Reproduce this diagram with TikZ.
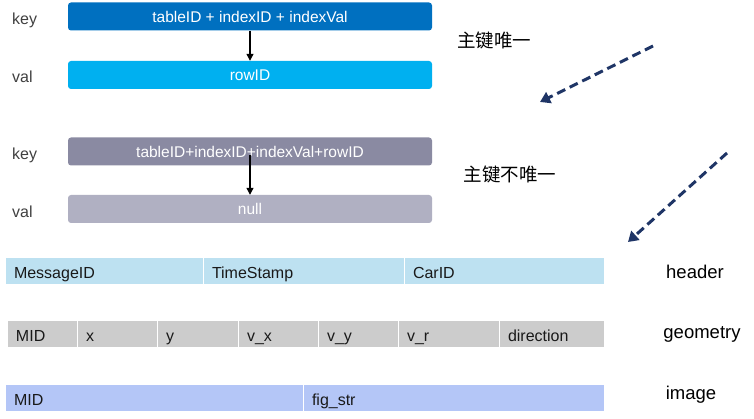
\documentclass[tikz,border=0pt]{standalone}
\usepackage{fontspec}
\setmainfont{Liberation Sans}
\newfontfamily\cjk{Noto Sans CJK SC}
\usepackage{tikz}
\usetikzlibrary{%
    arrows.meta,
    positioning,
    calc
}

\definecolor{keyblue}{HTML}{0070C0}
\definecolor{valblue}{HTML}{00B0F0}
\definecolor{keygray}{HTML}{8A8AA2}
\definecolor{valgray}{HTML}{B0B0C2}
\definecolor{hdblue}{HTML}{BDE1F1}
\definecolor{geogray}{HTML}{CCCCCC}
\definecolor{imgblue}{HTML}{B4C6F7}
\definecolor{navy}{HTML}{1F3566}

\begin{document}
\begin{tikzpicture}[x=1pt, y=-1pt,
    kvbox/.style={rectangle, rounded corners=3pt, minimum width=364pt,
      minimum height=28pt, inner sep=0pt, text=white,
      font=\fontsize{15.5}{18}\selectfont},
    side/.style={anchor=west, inner sep=0pt, text=black!75,
      font=\fontsize{16}{19}\selectfont},
    cell/.style={draw=white, line width=1pt, minimum height=27pt,
      outer sep=0pt, inner xsep=9pt, inner ysep=0pt, text width=#1,
      text height=15pt, text depth=0pt, align=left,
      text=black!90, font=\fontsize{16}{19}\selectfont},
    tag/.style={font=\fontsize{18.5}{22}\selectfont},
    link/.style={-{Triangle[width=7pt,length=7pt]}, line width=1.2pt},
    hint/.style={-{Triangle[width=12pt,length=10pt]}, line width=3pt,
      dash pattern=on 9pt off 5pt, color=navy}]
  \useasboundingbox (0,0) rectangle (754,419);

  % key / val, primary key unique
  \node[kvbox, fill=keyblue] (k1) at (250,16.5) {tableID + indexID + indexVal};
  \node[kvbox, fill=valblue] (v1) at (250,75) {rowID};
  \node[side] (lk1) at (12,20) {key};
  \node[side] (lv1) at (12,77) {val};
  \draw[link] (k1.south) -- (v1.north);

  % key / val, primary key not unique
  \node[kvbox, fill=keygray] (k2) at (250,151.5) {tableID+indexID+indexVal+rowID};
  \node[kvbox, fill=valgray] (v2) at (250,209) {null};
  \node[side] (lk2) at (12,155) {key};
  \node[side] (lv2) at (12,212) {val};
  \draw[link] ($(k2.center)+(0,4)$) -- (v2.north);

  \node[tag] (u1) at (494,40) {\cjk 主键唯一};
  \node[tag] (u2) at (510,174) {\cjk 主键不唯一};

  \coordinate (h1s) at (653,46);
  \coordinate (h1e) at (540,102);
  \coordinate (h2s) at (727,153);
  \coordinate (h2e) at (628,242);
  \draw[hint] (h1s) -- (h1e);
  \draw[hint] (h2s) -- (h2e);

  % header
  \node[cell=180pt, fill=hdblue, anchor=west] (hd1) at (5,271) {MessageID};
  \node[cell=183pt, fill=hdblue, right=0 of hd1] (hd2) {TimeStamp};
  \node[cell=182pt, fill=hdblue, right=0 of hd2] (hd3) {CarID};
  \node[tag] (thd) at (695,272) {header};

  % geometry
  \node[cell=52pt, fill=geogray, anchor=west] (ge1) at (7,334) {MID};
  \node[cell=62pt, fill=geogray, right=0 of ge1] (ge2) {x};
  \node[cell=63pt, fill=geogray, right=0 of ge2] (ge3) {y};
  \node[cell=62pt, fill=geogray, right=0 of ge3] (ge4) {v\_x};
  \node[cell=62pt, fill=geogray, right=0 of ge4] (ge5) {v\_y};
  \node[cell=83pt, fill=geogray, right=0 of ge5] (ge6) {v\_r};
  \node[cell=87pt, fill=geogray, right=0 of ge6] (ge7) {direction};
  \node[tag] (tge) at (702,334) {geometry};

  % image
  \node[cell=280pt, fill=imgblue, anchor=west] (im1) at (5,398) {MID};
  \node[cell=283pt, fill=imgblue, right=0 of im1] (im2) {fig\_str};
  \node[tag] (tim) at (691,395) {image};
\end{tikzpicture}
\end{document}
